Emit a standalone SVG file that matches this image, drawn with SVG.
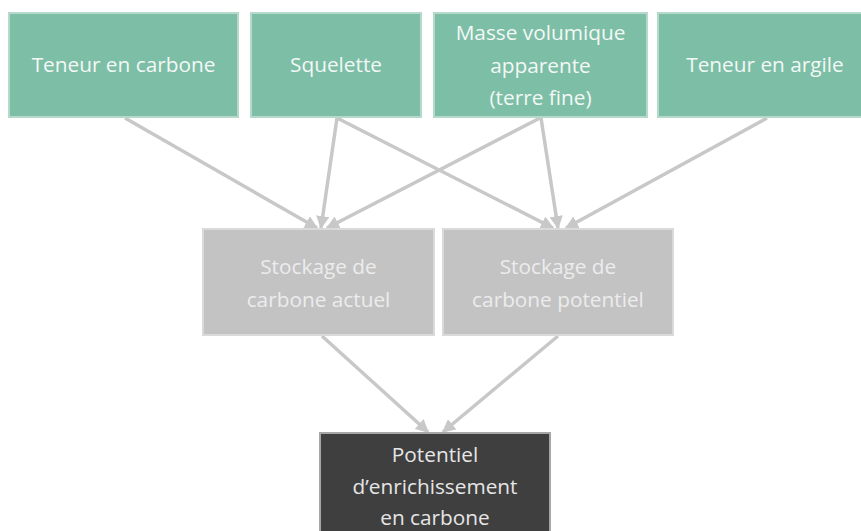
<svg xmlns="http://www.w3.org/2000/svg" width="861" height="531" viewBox="0 0 861 531">
  <style>
    .lbl { font-family: "Open Sans", "Liberation Sans", Arial, sans-serif; font-size: 20.8px; text-anchor: middle; }
    .top rect { fill: #7dbea7; stroke: #b5d9cb; stroke-width: 2; }
    .top text { fill: #f3f8f5; }
    .mid rect { fill: #c3c3c4; stroke: #dadada; stroke-width: 2; }
    .mid text { fill: #ececec; }
    .out rect { fill: #3f3f3f; stroke: #a6a6a6; stroke-width: 2; }
    .out text { fill: #e6e6e6; }
    .edge { stroke: #c8c8c9; stroke-width: 3.5; fill: none; marker-end: url(#head); }
  </style>
  <defs>
    <marker id="head" viewBox="0 0 10 10" refX="9" refY="5" markerWidth="3.8" markerHeight="3.8" orient="auto" markerUnits="strokeWidth">
      <path d="M0,0 L10,5 L0,10 z" fill="#c8c8c9"/>
    </marker>
  </defs>
  <rect width="861" height="531" fill="#ffffff"/>

  <g id="connectors">
    <line class="edge" x1="125" y1="118" x2="317" y2="228"/>
    <line class="edge" x1="337" y1="118" x2="321" y2="228"/>
    <line class="edge" x1="540" y1="118" x2="327" y2="228"/>
    <line class="edge" x1="337" y1="118" x2="553" y2="228"/>
    <line class="edge" x1="541" y1="118" x2="558" y2="228"/>
    <line class="edge" x1="767" y1="118" x2="566" y2="228"/>
    <line class="edge" x1="322" y1="336" x2="428" y2="432"/>
    <line class="edge" x1="558" y1="336" x2="443" y2="432"/>
  </g>

  <g id="teneur-carbone" class="top">
    <rect x="9" y="13" width="229" height="104"/>
    <text class="lbl" x="123.5" y="72">Teneur en carbone</text>
  </g>
  <g id="squelette" class="top">
    <rect x="251" y="13" width="170" height="104"/>
    <text class="lbl" x="336" y="72">Squelette</text>
  </g>
  <g id="masse-volumique" class="top">
    <rect x="434" y="13" width="213" height="104"/>
    <text class="lbl" x="540.5" y="40">Masse volumique</text>
    <text class="lbl" x="540.5" y="73">apparente</text>
    <text class="lbl" x="540.5" y="105">(terre fine)</text>
  </g>
  <g id="teneur-argile" class="top">
    <rect x="658" y="13" width="214" height="104"/>
    <text class="lbl" x="765" y="72">Teneur en argile</text>
  </g>

  <g id="stockage-actuel" class="mid">
    <rect x="203" y="229" width="231" height="106"/>
    <text class="lbl" x="318.5" y="274">Stockage de</text>
    <text class="lbl" x="318.5" y="307">carbone actuel</text>
  </g>
  <g id="stockage-potentiel" class="mid">
    <rect x="443" y="229" width="230" height="106"/>
    <text class="lbl" x="558" y="274">Stockage de</text>
    <text class="lbl" x="558" y="307">carbone potentiel</text>
  </g>

  <g id="potentiel-enrichissement" class="out">
    <rect x="320" y="433" width="230" height="110"/>
    <text class="lbl" x="435" y="462">Potentiel</text>
    <text class="lbl" x="435" y="494">d’enrichissement</text>
    <text class="lbl" x="435" y="525">en carbone</text>
  </g>
</svg>
